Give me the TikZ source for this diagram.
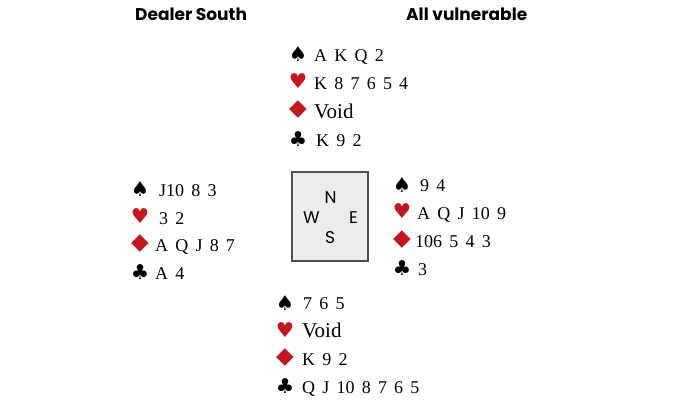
\documentclass[tikz,border=0pt]{standalone}
\usepackage{fontspec}
\setmainfont{Liberation Serif}
\newfontfamily\rankfont[WordSpace=1.6]{Liberation Serif}
\newfontfamily\suitfont{DejaVu Sans}
\newfontfamily\labelfont{Poppins}
\definecolor{suitred}{HTML}{C4161C}
\definecolor{boxgray}{HTML}{ECECEC}
\definecolor{boxline}{HTML}{505050}
\newcommand{\spadesym}{♠}
\newcommand{\heartsym}{♥}
\newcommand{\diamsym}{◆}
\newcommand{\clubsym}{♣}

\begin{document}
\begin{tikzpicture}[x=1pt,y=-1pt,
  suit/.style={inner sep=0pt,font=\suitfont\fontsize{20.5}{20.5}\selectfont},
  redsuit/.style={suit,text=suitred},
  diam/.style={redsuit,font=\suitfont\fontsize{23}{23}\selectfont},
  ranks/.style={inner sep=0pt,anchor=base west,font=\rankfont\fontsize{18}{18}\selectfont},
  void/.style={ranks,font=\rankfont\fontsize{21}{21}\selectfont},
  title/.style={inner sep=0pt,anchor=base west,font=\labelfont\bfseries\fontsize{17}{17}\selectfont},
  compass/.style={inner sep=0pt,font=\labelfont\fontsize{17}{17}\selectfont}]
\useasboundingbox (0,0) rectangle (700,413);
\node[title] (dealer) at (135,20) {Dealer South};
\node[title] (vul) at (406,20) {All vulnerable};
% north
\node[suit] (ns) at (298,54) {\spadesym};
\node[ranks] (nsr) at (314,61.5) {A K Q 2};
\node[redsuit] (nh) at (298,81) {\heartsym};
\node[ranks] (nhr) at (314,89) {K 8 7 6 5 4};
\node[diam] (nd) at (298,110) {\diamsym};
\node[void] (ndr) at (314,118) {Void};
\node[suit] (nc) at (298,139) {\clubsym};
\node[ranks] (ncr) at (316,146.5) {K 9 2};
% west
\node[suit] (ws) at (140,189) {\spadesym};
\node[ranks] (wsr) at (159,196) {J10 8 3};
\node[redsuit] (wh) at (140,216) {\heartsym};
\node[ranks] (whr) at (159,224) {3 2};
\node[diam] (wd) at (140,244) {\diamsym};
\node[ranks] (wdr) at (155,251.5) {A Q J 8 7};
\node[suit] (wc) at (140,272) {\clubsym};
\node[ranks] (wcr) at (155,279) {A 4};
% east
\node[suit] (es) at (402,185) {\spadesym};
\node[ranks] (esr) at (420,191) {9 4};
\node[redsuit] (eh) at (402,211) {\heartsym};
\node[ranks] (ehr) at (417,219) {A Q J 10 9};
\node[diam] (ed) at (402,240) {\diamsym};
\node[ranks] (edr) at (415,247) {106 5 4 3};
\node[suit] (ec) at (402,268) {\clubsym};
\node[ranks] (ecr) at (418,275) {3};
% south
\node[suit] (ss) at (285,303) {\spadesym};
\node[ranks] (ssr) at (303,309) {7 6 5};
\node[redsuit] (sh) at (285,330) {\heartsym};
\node[void] (shr) at (302,337) {Void};
\node[diam] (sd) at (285,358) {\diamsym};
\node[ranks] (sdr) at (302,365) {K 9 2};
\node[suit] (sc) at (285,386) {\clubsym};
\node[ranks] (scr) at (302,393) {Q J 10 8 7 6 5};
% table
\draw[boxline,fill=boxgray,line width=1.2pt] (292,172) rectangle (368,261);
\node[compass] (north) at (330.5,197.5) {N};
\node[compass] (west) at (311.5,217.5) {W};
\node[compass] (east) at (353.5,218) {E};
\node[compass] (south) at (330,237.5) {S};
\end{tikzpicture}
\end{document}
